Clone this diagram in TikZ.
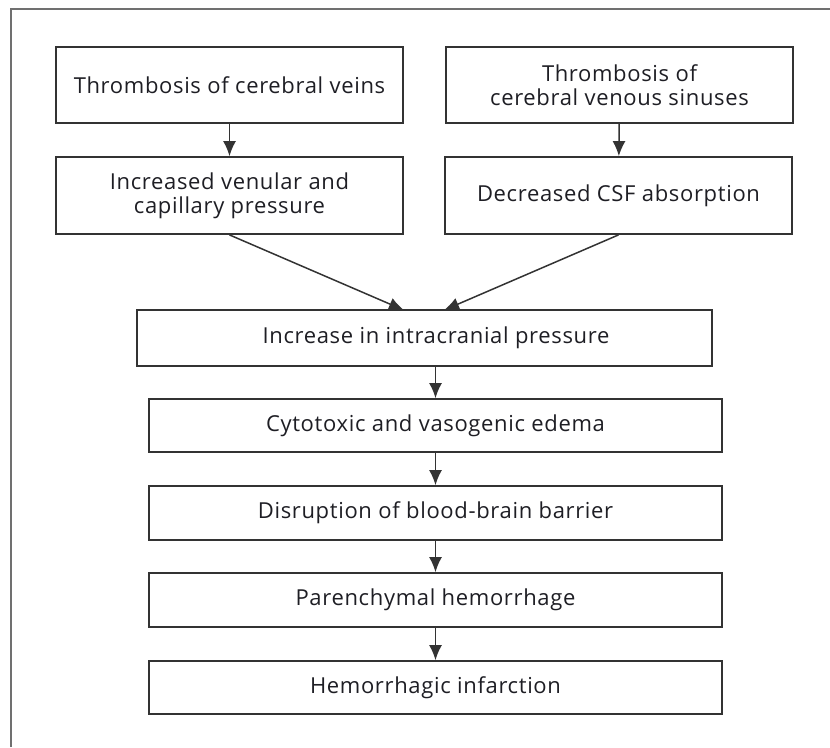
\documentclass[tikz,border=0pt]{standalone}
\usepackage{fontspec}
\setmainfont[LetterSpace = 3]{Open Sans}
\usetikzlibrary{arrows.meta}
\definecolor{boxline}{HTML}{333333}
\definecolor{frameline}{HTML}{707070}
\definecolor{txt}{HTML}{1E1E24}
\tikzset{stage/.style={draw = boxline, line width = 1.8pt, rectangle,
    align = center, text = txt, inner sep = 0pt,
    font = \fontsize{22}{24}\selectfont},
  flow/.style={-{Latex[length = 15pt, width = 13pt]}, line width = 1.5pt,
    draw = boxline}
}

\begin{document}
\begin{tikzpicture}[x = 1pt, y = 1pt]
    \useasboundingbox (0, 0) rectangle (830, -747);
    \draw[frameline, line width = 2pt] (10.5, -747) -- (10.5, -8.5) -- (830, -8.5);
    \draw (229.5, -85) node[stage, minimum width = 347, minimum height = 76]
    (n1) {Thrombosis of cerebral veins};
    \draw (619.5, -85) node[stage, minimum width = 347, minimum height = 76]
    (n2) {Thrombosis of\\cerebral venous sinuses};
    \draw (229.5, -195.5) node[stage, minimum width = 347, minimum height = 77]
    (n3) {Increased venular and\\capillary pressure};
    \draw (618.5, -195.5) node[stage, minimum width = 347, minimum height = 77]
    (n4) {Decreased CSF absorption};
    % box of n5 sits a bit left of its text
    \draw (436, -338) node[stage, draw = none, minimum width = 573, minimum height = 54]
    (n5) {Increase in intracranial pressure};
    \draw[boxline, line width = 1.8pt] ([xshift = -11.5pt]n5.south west)
    rectangle ([xshift = -11.5pt]n5.north east);
    \draw (435.5, -425.5) node[stage, minimum width = 573, minimum height = 53]
    (n6) {Cytotoxic and vasogenic edema};
    \draw (435.5, -513) node[stage, minimum width = 573, minimum height = 54]
    (n7) {Disruption of blood-brain barrier};
    \draw (435.5, -600) node[stage, minimum width = 573, minimum height = 54]
    (n8) {Parenchymal hemorrhage};
    \draw (435.5, -687.5) node[stage, minimum width = 573, minimum height = 53]
    (n9) {Hemorrhagic infarction};
    \draw[flow] (n1) -- (n3);
    \draw[flow] (n2) -- (n4);
    \draw[flow] (n3.south) -- (n5.north -| n3.east);
    \draw[flow] (n4.south) -- (n5.north -| n4.west);
    \draw[flow] (n6.north |- n5.south) -- (n6);
    \draw[flow] (n6) -- (n7);
    \draw[flow] (n7) -- (n8);
    \draw[flow] (n8) -- (n9);
  \end{tikzpicture}
\end{document}
